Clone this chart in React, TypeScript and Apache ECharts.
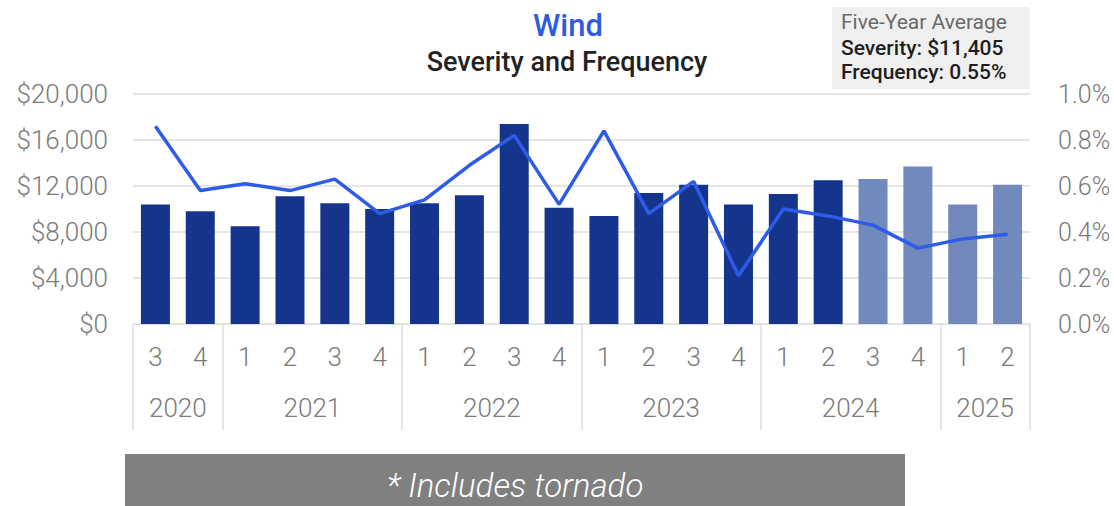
import React, { useEffect, useRef } from "react";
import * as echarts from "echarts";

const quarters = ["3", "4", "1", "2", "3", "4", "1", "2", "3", "4", "1", "2", "3", "4", "1", "2", "3", "4", "1", "2"];
const years = ["2020", "2021", "2022", "2023", "2024", "2025"];
const yearCenters = [1, 4, 8, 12, 16, 19];
const yearBounds = [0, 2, 6, 10, 14, 18, 20];
const severity = [10400, 9800, 8500, 11100, 10500, 10000, 10500, 11200, 17400, 10100, 9400, 11400, 12100, 10400, 11300, 12500, 12600, 13700, 10400, 12100];
const frequency = [0.86, 0.58, 0.61, 0.58, 0.63, 0.48, 0.54, 0.69, 0.82, 0.52, 0.84, 0.48, 0.62, 0.21, 0.5, 0.47, 0.43, 0.33, 0.37, 0.39];
const projectedFrom = 16;
const title = "Wind";
const subtitle = "Severity and Frequency";
const boxLines = ["Five-Year Average", "Severity: $11,405", "Frequency: 0.55%"];
const footnote = "* Includes tornado";

const FONT = "Roboto, 'Noto Sans', sans-serif";

export default function App() {
  const ref = useRef<HTMLDivElement>(null);
  useEffect(() => {
    if (!ref.current) return;
    const chart = echarts.init(ref.current, undefined, { renderer: "svg" });
    const axisTextColor = "#7a7a7a";
    chart.setOption({
      animation: false,
      textStyle: { fontFamily: FONT },
      grid: { left: 133, right: 84, top: 94, bottom: 182, containLabel: false },
      title: [
        {
          text: title,
          left: 563,
          top: 5,
          textAlign: "center",
          textStyle: { color: "#2f5be3", fontSize: 31, fontWeight: 500, fontFamily: FONT },
        },
        {
          text: subtitle,
          left: 562,
          top: 43,
          textAlign: "center",
          textStyle: { color: "#222222", fontSize: 27, fontWeight: 500, fontFamily: FONT },
        },
      ],
      xAxis: [
        {
          type: "category",
          data: quarters,
          position: "bottom",
          axisLine: { show: true, lineStyle: { color: "#e0e0e0", width: 1 } },
          axisTick: { show: false },
          axisLabel: { color: axisTextColor, fontSize: 26, margin: 20, fontFamily: FONT, fontWeight: 300 },
          splitLine: { show: false },
        },
        {
          type: "value",
          min: 0,
          max: quarters.length,
          position: "bottom",
          axisLine: { show: false },
          splitLine: { show: false },
          axisTick: {
            show: true,
            customValues: yearBounds,
            length: 106,
            lineStyle: { color: "#dcdcdc", width: 1.5 },
          },
          axisLabel: {
            show: true,
            customValues: yearCenters,
            formatter: (v: number) => years[yearCenters.indexOf(v)] ?? "",
            color: axisTextColor,
            fontSize: 26,
            margin: 71,
            fontFamily: FONT,
            fontWeight: 300,
          },
        },
      ],
      yAxis: [
        {
          type: "value",
          min: 0,
          max: 20000,
          interval: 4000,
          axisLine: { show: false },
          axisTick: { show: false },
          axisLabel: {
            color: axisTextColor,
            fontSize: 26,
            margin: 25,
            fontFamily: FONT,
            fontWeight: 300,
            formatter: (v: number) => "$" + v.toLocaleString("en-US"),
          },
          splitLine: { show: true, lineStyle: { color: "#dedede", width: 1.5 } },
        },
        {
          type: "value",
          min: 0,
          max: 1,
          interval: 0.2,
          position: "right",
          axisLine: { show: false },
          axisTick: { show: false },
          splitLine: { show: false },
          axisLabel: {
            color: axisTextColor,
            fontSize: 25,
            margin: 28,
            fontFamily: FONT,
            fontWeight: 300,
            formatter: (v: number) => v.toFixed(1) + "%",
          },
        },
      ],
      series: [
        {
          type: "bar",
          xAxisIndex: 0,
          yAxisIndex: 0,
          barWidth: 29,
          data: severity.map((v, i) => ({
            value: v,
            itemStyle: { color: i >= projectedFrom ? "#7189bd" : "#15358d" },
          })),
        },
        {
          type: "line",
          xAxisIndex: 0,
          yAxisIndex: 1,
          data: frequency,
          symbol: "none",
          lineStyle: { color: "#2d5ce8", width: 3.5 },
          z: 5,
        },
      ],
      graphic: [
        {
          type: "rect",
          shape: { x: 832, y: 7, width: 198, height: 82 },
          style: { fill: "#efefef" },
        },
        {
          type: "text",
          x: 841,
          y: 11,
          style: { text: boxLines[0], fill: "#6a6a6a", fontSize: 21, fontFamily: FONT },
        },
        {
          type: "text",
          x: 841,
          y: 37,
          style: { text: boxLines[1], fill: "#1e1e1e", fontSize: 21, fontFamily: FONT, fontWeight: 500 },
        },
        {
          type: "text",
          x: 841,
          y: 61,
          style: { text: boxLines[2], fill: "#1e1e1e", fontSize: 21, fontFamily: FONT, fontWeight: 500 },
        },
        {
          type: "rect",
          shape: { x: 125, y: 454, width: 780, height: 52 },
          style: { fill: "#808080" },
        },
        {
          type: "text",
          x: 515,
          y: 485,
          style: {
            text: footnote,
            fill: "#ffffff",
            fontSize: 33,
            fontStyle: "italic",
            fontFamily: FONT,
            fontWeight: 300,
            align: "center",
            verticalAlign: "middle",
          },
        },
      ],
    });
    return () => chart.dispose();
  }, []);
  return (
    <div
      ref={ref}
      style={{ position: "fixed", left: 0, top: 0, width: 1114, height: 506, background: "#ffffff" }}
    />
  );
}
